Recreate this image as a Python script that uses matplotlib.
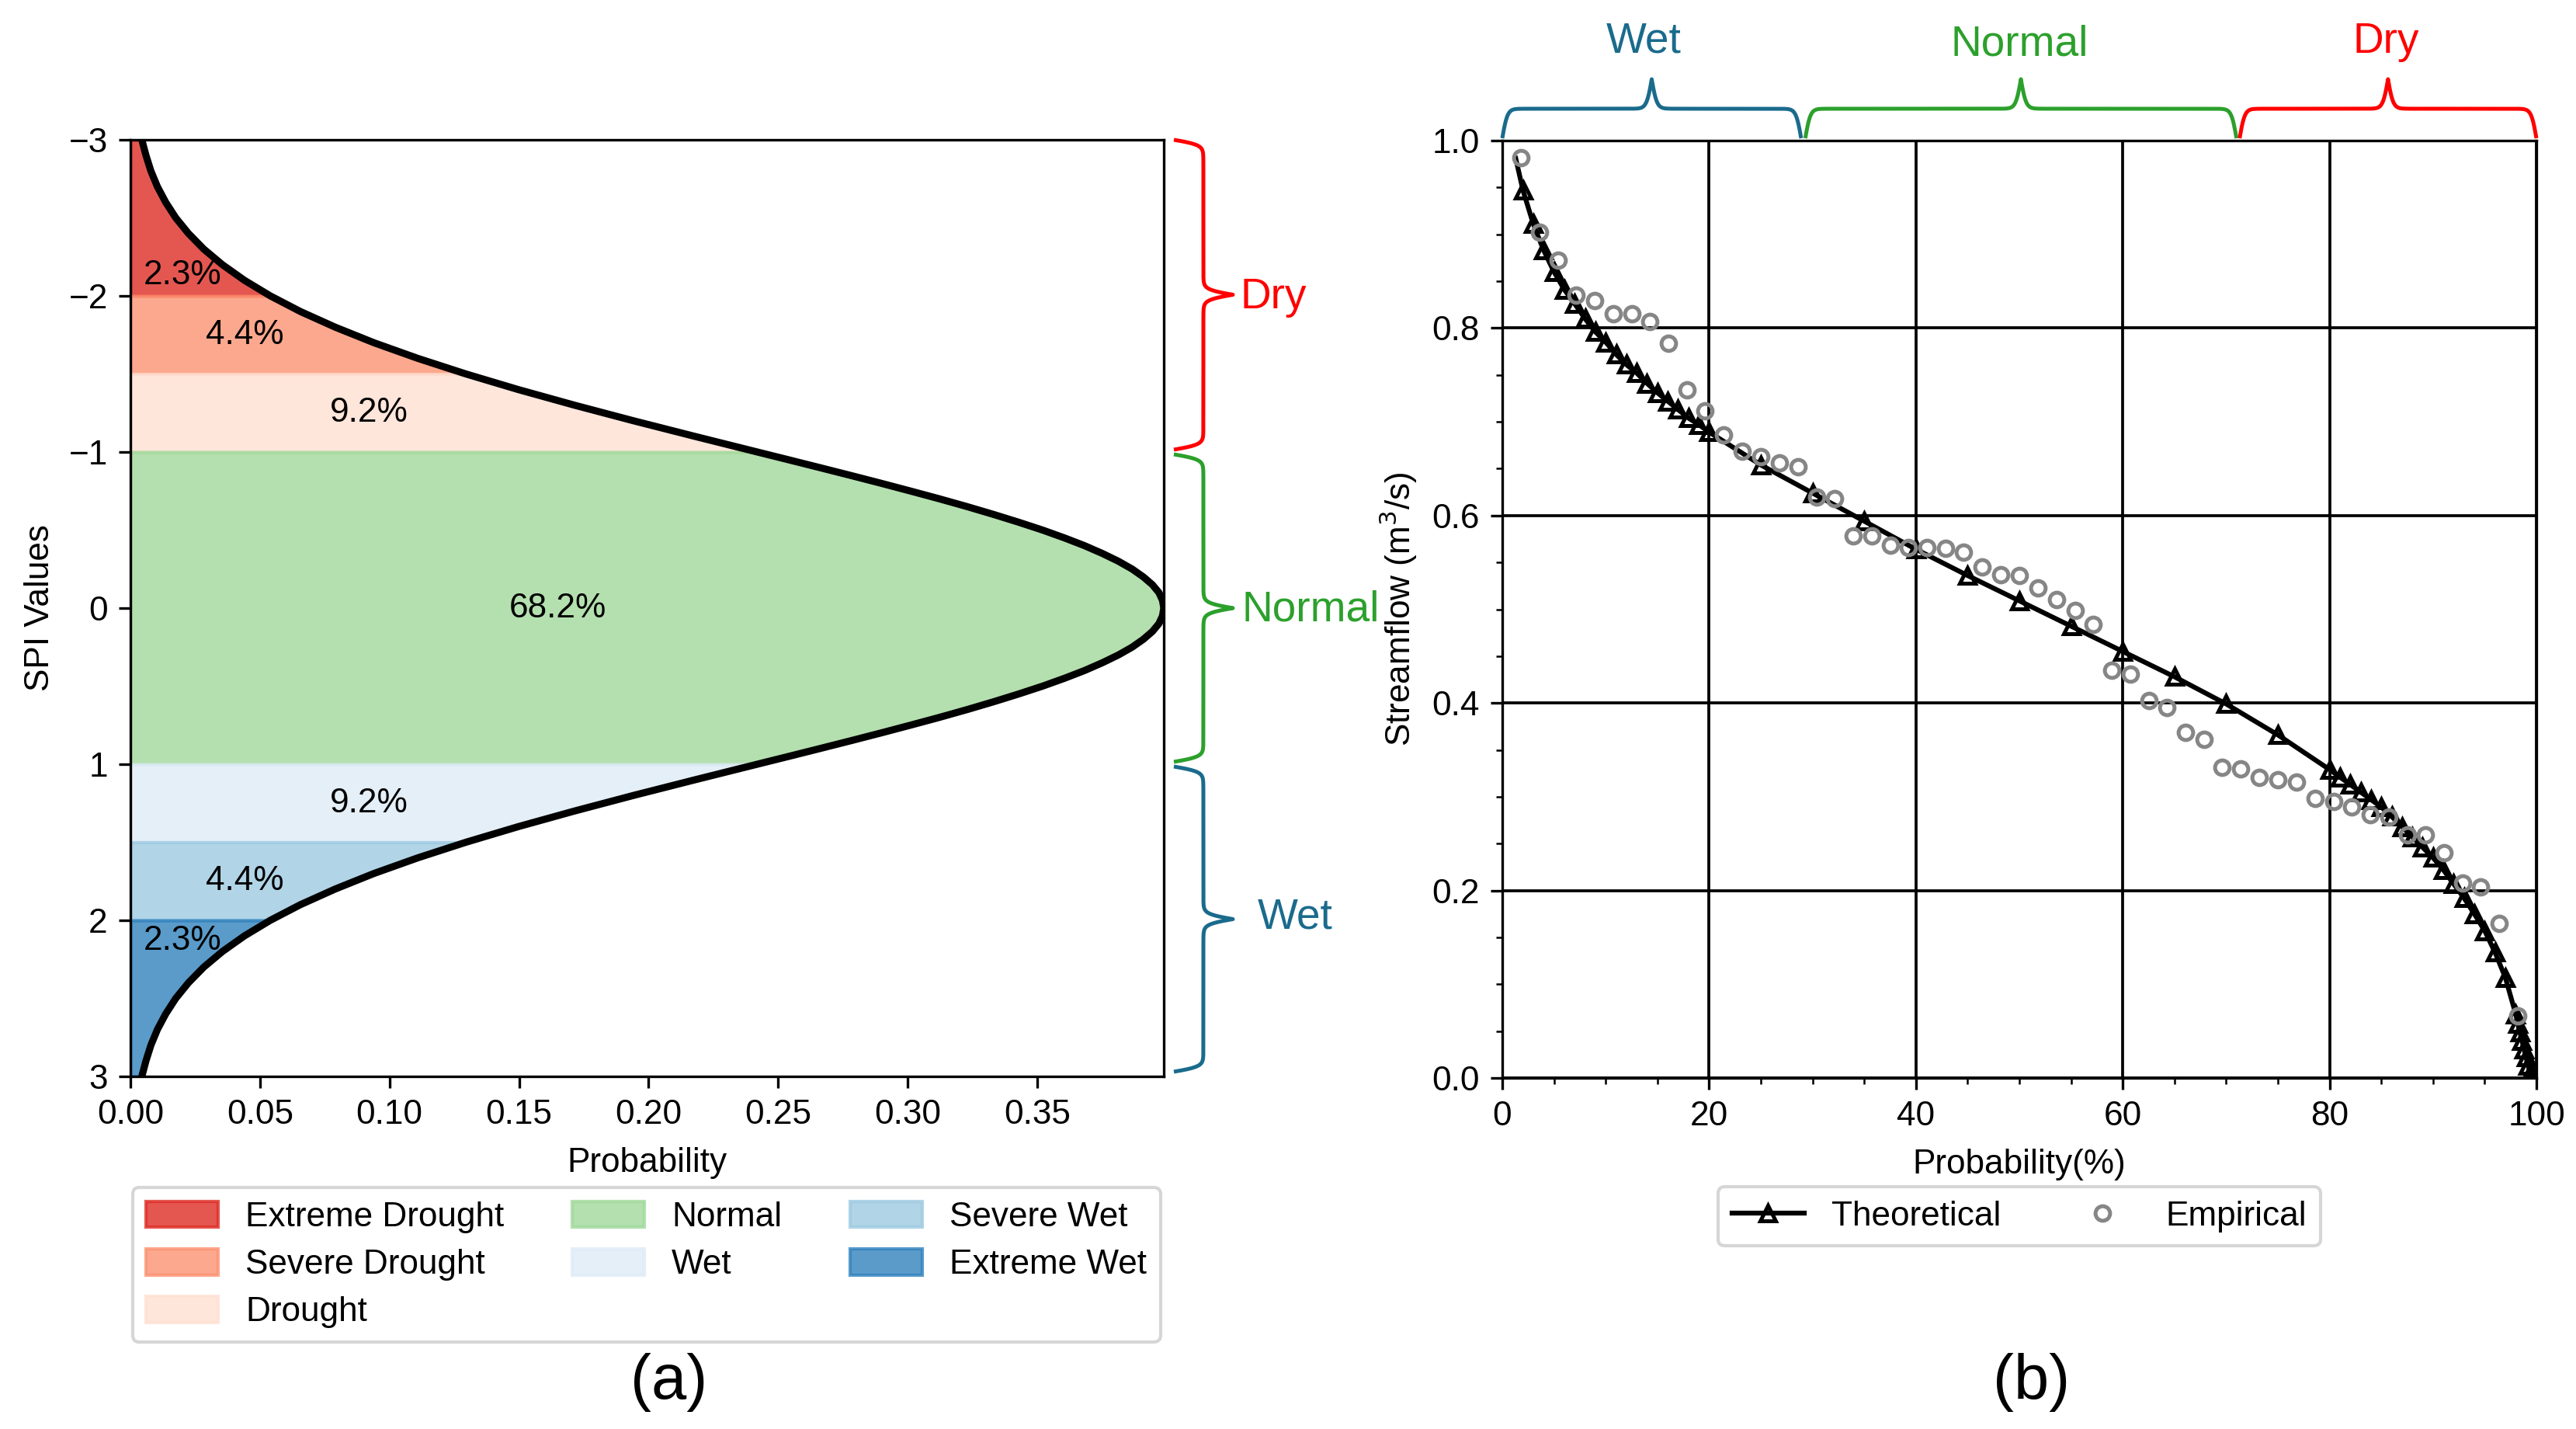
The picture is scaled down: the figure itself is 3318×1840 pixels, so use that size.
import numpy as np
import matplotlib
matplotlib.use('Agg')
import matplotlib.pyplot as plt
from matplotlib.lines import Line2D
from matplotlib.ticker import MultipleLocator

plt.rcParams['font.family'] = ['Liberation Sans', 'DejaVu Sans']
plt.rcParams['font.size'] = 10.6

# --- (a) standard normal density (finer steps near the peak) ---
spi = [-3.0, -2.9, -2.8, -2.7, -2.6, -2.5, -2.4, -2.3, -2.2, -2.1,
       -2.0, -1.9, -1.8, -1.7, -1.6, -1.5, -1.4, -1.3, -1.2, -1.1,
       -1.0, -0.95, -0.9, -0.85, -0.8, -0.75, -0.7, -0.65, -0.6, -0.55,
       -0.5, -0.45, -0.4, -0.35, -0.3, -0.25, -0.2, -0.15, -0.1, -0.05,
       0.0,
       0.05, 0.1, 0.15, 0.2, 0.25, 0.3, 0.35, 0.4, 0.45, 0.5,
       0.55, 0.6, 0.65, 0.7, 0.75, 0.8, 0.85, 0.9, 0.95, 1.0,
       1.1, 1.2, 1.3, 1.4, 1.5, 1.6, 1.7, 1.8, 1.9, 2.0,
       2.1, 2.2, 2.3, 2.4, 2.5, 2.6, 2.7, 2.8, 2.9, 3.0]
density = [0.0044, 0.0060, 0.0079, 0.0104, 0.0136, 0.0175, 0.0224, 0.0283, 0.0355, 0.0440,
           0.0540, 0.0656, 0.0790, 0.0940, 0.1109, 0.1295, 0.1497, 0.1714, 0.1942, 0.2179,
           0.2420, 0.2541, 0.2661, 0.2780, 0.2897, 0.3011, 0.3123, 0.3230, 0.3332, 0.3429,
           0.3521, 0.3605, 0.3683, 0.3752, 0.3814, 0.3867, 0.3910, 0.3945, 0.3970, 0.3984,
           0.3989,
           0.3984, 0.3970, 0.3945, 0.3910, 0.3867, 0.3814, 0.3752, 0.3683, 0.3605, 0.3521,
           0.3429, 0.3332, 0.3230, 0.3123, 0.3011, 0.2897, 0.2780, 0.2661, 0.2541, 0.2420,
           0.2179, 0.1942, 0.1714, 0.1497, 0.1295, 0.1109, 0.0940, 0.0790, 0.0656, 0.0540,
           0.0440, 0.0355, 0.0283, 0.0224, 0.0175, 0.0136, 0.0104, 0.0079, 0.0060, 0.0044]
spi = np.array(spi)
density = np.array(density)

class_names = ['Extreme Drought', 'Severe Drought', 'Drought', 'Normal',
               'Wet', 'Severe Wet', 'Extreme Wet']
class_lo = [-3.0, -2.0, -1.5, -1.0, 1.0, 1.5, 2.0]
class_hi = [-2.0, -1.5, -1.0, 1.0, 1.5, 2.0, 3.0]
class_colors = ['#de2d26', '#fc9272', '#fee0d2', '#a1d99b', '#deebf7', '#9ecae1', '#3182bd']

pct_text = ['2.3%', '4.4%', '9.2%', '68.2%', '9.2%', '4.4%', '2.3%']
pct_x = [0.020, 0.044, 0.092, 0.165, 0.092, 0.044, 0.020]
pct_y = [-2.13, -1.75, -1.25, 0.0, 1.25, 1.75, 2.13]

# --- (b) flow duration curve ---
theo_p = [1.3, 2, 3, 4, 5, 6, 7, 8, 9, 10, 11, 12, 13, 14, 15, 16, 17, 18, 19, 20,
          25, 30, 35, 40, 45, 50, 55, 60, 65, 70, 75,
          80, 81, 82, 83, 84, 85, 86, 87, 88, 89, 90, 91, 92, 93, 94, 95, 96, 97, 98,
          98.2, 98.4, 98.6, 98.8, 99.0, 99.2, 99.4, 99.5]
theo_q = [0.981, 0.947, 0.911, 0.883, 0.860, 0.841, 0.826, 0.810, 0.796, 0.785,
          0.772, 0.761, 0.752, 0.741, 0.731, 0.722, 0.713, 0.704, 0.697, 0.689,
          0.654, 0.624, 0.594, 0.564, 0.536, 0.509, 0.482, 0.455, 0.428, 0.399, 0.366,
          0.329, 0.321, 0.313, 0.305, 0.297, 0.289, 0.279, 0.268, 0.257, 0.246,
          0.235, 0.222, 0.207, 0.192, 0.175, 0.157, 0.134, 0.107, 0.068,
          0.058, 0.049, 0.040, 0.031, 0.022, 0.013, 0.005, 0.0]

emp_p = [1.8, 3.6, 5.4, 7.1, 8.9, 10.7, 12.5, 14.3, 16.1, 17.9, 19.6, 21.4, 23.2, 25.0,
         26.8, 28.6, 30.4, 32.1, 33.9, 35.7, 37.5, 39.3, 41.1, 42.9, 44.6, 46.4, 48.2,
         50.0, 51.8, 53.6, 55.4, 57.1, 58.9, 60.7, 62.5, 64.3, 66.1, 67.9, 69.6, 71.4,
         73.2, 75.0, 76.8, 78.6, 80.4, 82.1, 83.9, 85.7, 87.5, 89.3, 91.1, 92.9, 94.6,
         96.4, 98.2]
emp_q = [0.982, 0.902, 0.872, 0.835, 0.829, 0.815, 0.815, 0.807, 0.784, 0.734,
         0.712, 0.686, 0.669, 0.663, 0.656, 0.652, 0.620, 0.618, 0.578, 0.578,
         0.568, 0.566, 0.566, 0.565, 0.561, 0.545, 0.537, 0.536, 0.523, 0.510,
         0.499, 0.484, 0.435, 0.431, 0.403, 0.395, 0.369, 0.361, 0.331, 0.330,
         0.321, 0.318, 0.316, 0.298, 0.295, 0.289, 0.281, 0.278, 0.259, 0.259,
         0.240, 0.208, 0.204, 0.165, 0.066]

# brace groups
a_groups = ['Dry', 'Normal', 'Wet']
a_lo = [-3.0, -0.985, 1.015]
a_hi = [-1.015, 0.985, 2.97]
b_groups = ['Wet', 'Normal', 'Dry']
b_lo = [0.0, 29.3, 71.3]
b_hi = [28.9, 71.0, 100.0]
group_colors = {'Dry': '#ff0000', 'Normal': '#2ca02c', 'Wet': '#1a6b8c'}

W, H = 3318, 1840
fig = plt.figure(figsize=(W / 300, H / 300), dpi=300)


def px_axes(left, top, right, bottom):
    return fig.add_axes([left / W, 1 - bottom / H, (right - left) / W, (bottom - top) / H])


def curly_brace(p_start, p_end, height, sharp=0.3, n=300):
    p_start = np.asarray(p_start, float)
    p_end = np.asarray(p_end, float)
    along = p_end - p_start
    length = np.hypot(*along)
    unit = along / length
    normal = np.array([-unit[1], unit[0]])
    t = np.linspace(0, length / 2, n)
    half = 1 / (1 + np.exp(-sharp * t)) + 1 / (1 + np.exp(-sharp * (t - length / 2)))
    u = np.concatenate([half, half[-2::-1]])
    s = np.concatenate([t, length - t[-2::-1]])
    off = (u - 0.5) * height
    return p_start + np.outer(s, unit) + np.outer(off, normal)


def add_brace(pts, color):
    f = fig.transFigure.inverted().transform(pts)
    fig.add_artist(Line2D(f[:, 0], f[:, 1], transform=fig.transFigure,
                          color=color, lw=1.2, solid_capstyle='butt'))


def fig_text(x, y, s, **kw):
    fig.text(x / W, 1 - y / H, s, **kw)


# ---------------- panel (a) ----------------
ax1 = px_axes(168, 180, 1499, 1386)
for name, lo, hi, c in zip(class_names, class_lo, class_hi, class_colors):
    m = (spi >= lo - 1e-9) & (spi <= hi + 1e-9)
    ax1.fill_betweenx(spi[m], 0, density[m], color=c, alpha=0.8, label=name)
ax1.plot(density, spi, color='k', lw=2.2, zorder=5, solid_joinstyle='round')
for s, x, y in zip(pct_text, pct_x, pct_y):
    ax1.text(x, y, s, ha='center', va='center', fontsize=10.6, zorder=6)

ax1.set_xlim(0, 0.3989)
ax1.set_ylim(3, -3)
ax1.xaxis.set_major_locator(MultipleLocator(0.05))
ax1.yaxis.set_major_locator(MultipleLocator(1))
ax1.set_xlabel('Probability', labelpad=5)
ax1.set_ylabel('SPI Values')
ax1.legend(loc='upper left', bbox_to_anchor=(0.002, -0.1186, 0.9947, 0), mode='expand',
           ncol=3, borderaxespad=0, handlelength=2.1, handleheight=0.8,
           handletextpad=0.8, labelspacing=0.45, fontsize=10.6)

# ---------------- panel (b) ----------------
ax2 = px_axes(1935, 181, 3267, 1388)
ax2.plot(theo_p, theo_q, color='k', lw=1.5, marker='^', ms=5, mfc='none', mec='k',
         mew=1.2, markevery=list(range(1, len(theo_p))), label='Theoretical', zorder=3)
ax2.plot(emp_p, emp_q, linestyle='none', marker='o', ms=4.5, mfc='none', mec='#868686',
         mew=1.2, label='Empirical', zorder=4)
ax2.set_xlim(0, 100)
ax2.set_ylim(0, 1.0)
ax2.xaxis.set_major_locator(MultipleLocator(20))
ax2.xaxis.set_minor_locator(MultipleLocator(5))
ax2.yaxis.set_major_locator(MultipleLocator(0.2))
ax2.yaxis.set_minor_locator(MultipleLocator(0.05))
ax2.grid(True, which='major', color='k', lw=0.9)
ax2.set_axisbelow(True)
ax2.set_xlabel('Probability(%)', labelpad=5)
ax2.set_ylabel('Streamflow (m$^3$/s)')
ax2.legend(loc='upper center', bbox_to_anchor=(0.5, -0.116), ncol=2, borderaxespad=0,
           handlelength=2.1, handletextpad=0.8, columnspacing=1.9, fontsize=10.6)

# ---------------- braces ----------------
x_base = ax1.transAxes.transform((1, 0))[0] + 13
for g, lo, hi in zip(a_groups, a_lo, a_hi):
    y0 = ax1.transData.transform((0, lo))[1]
    y1 = ax1.transData.transform((0, hi))[1]
    add_brace(curly_brace((x_base, y0), (x_base, y1), 76), group_colors[g])

y_base = ax2.transAxes.transform((0, 1))[1] + 3
for g, lo, hi in zip(b_groups, b_lo, b_hi):
    x0 = ax2.transData.transform((lo, 0))[0]
    x1 = ax2.transData.transform((hi, 0))[0]
    add_brace(curly_brace((x0, y_base), (x1, y_base), 76), group_colors[g])

fig_text(1597, 383, 'Dry', color=group_colors['Dry'], fontsize=13.2, ha='left', va='center')
fig_text(1600, 785, 'Normal', color=group_colors['Normal'], fontsize=13.2, ha='left', va='center')
fig_text(1620, 1182, 'Wet', color=group_colors['Wet'], fontsize=13.2, ha='left', va='center')

fig_text(2117, 54, 'Wet', color=group_colors['Wet'], fontsize=13.2, ha='center', va='center')
fig_text(2601, 58, 'Normal', color=group_colors['Normal'], fontsize=13.2, ha='center', va='center')
fig_text(3073, 54, 'Dry', color=group_colors['Dry'], fontsize=13.2, ha='center', va='center')

fig_text(862, 1780, '(a)', fontsize=19.5, ha='center', va='center')
fig_text(2617, 1780, '(b)', fontsize=19.5, ha='center', va='center')

fig.savefig('out.png', dpi=300)
